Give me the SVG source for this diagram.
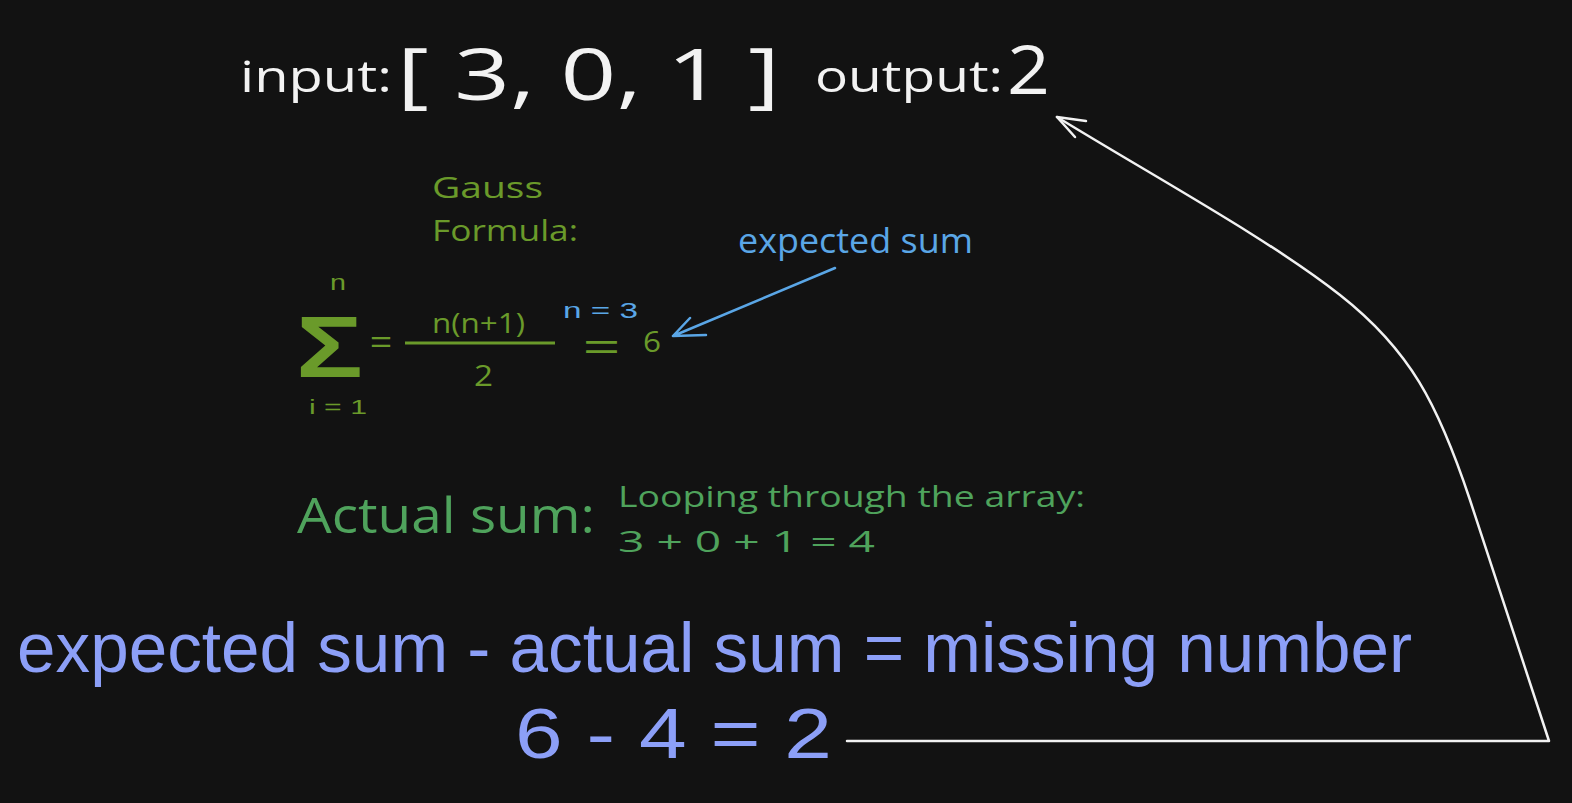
<svg xmlns="http://www.w3.org/2000/svg" width="1572" height="803" viewBox="0 0 1572 803">
<style>
text{font-family:"Open Sans","Liberation Sans",sans-serif;}
.f{font-family:"Liberation Sans",Arial,sans-serif;}
.w{fill:#f2f2f2}
.g{fill:#6a9a2a}
.gm{fill:#4fa35c}
.b{fill:#5aa6e6}
.p{fill:#8c9ff7}
.line{fill:none;stroke-linecap:round;stroke-linejoin:round}
</style>
<rect width="1572" height="803" fill="#121212"/>
<g id="input-label"><text class="w" x="240" y="92" font-size="44" textLength="152" lengthAdjust="spacingAndGlyphs">input:</text></g>
<g id="array"><text class="w" x="397" y="100" font-size="72" textLength="383" lengthAdjust="spacingAndGlyphs">[ 3, 0, 1 ]</text></g>
<g id="output-label"><text class="w" x="815" y="92" font-size="44" textLength="188" lengthAdjust="spacingAndGlyphs">output:</text></g>
<g id="output-value"><text class="w" x="1007" y="94" font-size="68" textLength="43" lengthAdjust="spacingAndGlyphs">2</text></g>

<g id="gauss-title">
<text class="g" x="432" y="198" font-size="30" textLength="111" lengthAdjust="spacingAndGlyphs">Gauss</text>
<text class="g" x="432" y="241" font-size="30" textLength="146" lengthAdjust="spacingAndGlyphs">Formula:</text>
</g>
<g id="formula">
<text class="g f" x="330" y="290" font-size="22" textLength="16" lengthAdjust="spacingAndGlyphs">n</text>
<text class="g f" x="296" y="377" font-size="88" font-weight="bold" textLength="67" lengthAdjust="spacingAndGlyphs">Σ</text>
<text class="g f" x="309" y="414" font-size="20" textLength="58" lengthAdjust="spacingAndGlyphs">i = 1</text>
<text class="g f" x="370" y="352" font-size="30" textLength="22" lengthAdjust="spacingAndGlyphs">=</text>
<text class="g" x="432" y="333" font-size="28" textLength="93" lengthAdjust="spacingAndGlyphs">n(n+1)</text>
<line x1="405" y1="343" x2="555" y2="343" stroke="#6a9a2a" stroke-width="3"/>
<text class="g" x="474" y="386" font-size="30" textLength="19" lengthAdjust="spacingAndGlyphs">2</text>
<text class="b f" x="563" y="318" font-size="22" textLength="75" lengthAdjust="spacingAndGlyphs">n = 3</text>
<text class="g f" x="583" y="359" font-size="36" textLength="37" lengthAdjust="spacingAndGlyphs">=</text>
<text class="g" x="643" y="352" font-size="30" textLength="18" lengthAdjust="spacingAndGlyphs">6</text>
</g>
<g id="expected-sum-label"><text class="b" x="738" y="253" font-size="34" textLength="235" lengthAdjust="spacingAndGlyphs">expected sum</text></g>

<g id="actual-sum">
<text class="gm" x="297" y="533" font-size="50" textLength="298" lengthAdjust="spacingAndGlyphs">Actual sum:</text>
<text class="gm" x="618" y="507" font-size="30" textLength="467" lengthAdjust="spacingAndGlyphs">Looping through the array:</text>
<text class="gm" x="618" y="552" font-size="30" textLength="257" lengthAdjust="spacingAndGlyphs">3 + 0 + 1 = 4</text>
</g>

<g id="equation">
<text class="p f" x="17" y="672" font-size="70" textLength="1395" lengthAdjust="spacingAndGlyphs">expected sum - actual sum = missing number</text>
<text class="p f" x="515" y="758" font-size="70" textLength="317" lengthAdjust="spacingAndGlyphs">6 - 4 = 2</text>
</g>

<g id="connectors">
<path class="line" d="M835,268 L673,336 M673,336 L690,318 M673,336 L706,335" stroke="#5aa6e6" stroke-width="2.5"/>
<path class="line" d="M847,741 L1549,741 L1470,500 C1438,404 1410,350 1340,295 C1270,240 1160,180 1057,117" stroke="#f2f2f2" stroke-width="2.5"/>
<path class="line" d="M1057,117 L1086,121 M1057,117 L1075,137" stroke="#f2f2f2" stroke-width="2.5"/>
</g>
</svg>
